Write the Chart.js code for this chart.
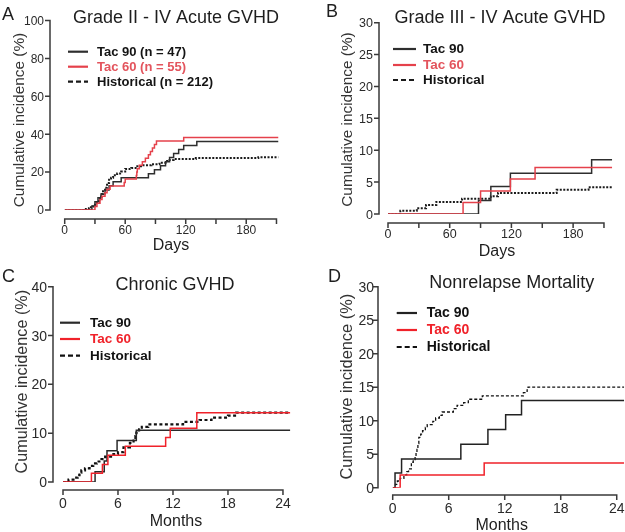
<!DOCTYPE html>
<html>
<head>
<meta charset="utf-8">
<script src="https://cdn.jsdelivr.net/npm/chart.js@4.4.1/dist/chart.umd.min.js"></script>
<style>
  body { margin: 0; background: #fff; width: 625px; height: 532px; overflow: hidden; position: relative; }
  canvas { position: absolute; left: 0; top: 0; }
</style>
</head>
<body>
<canvas id="chart-a" width="625" height="532"></canvas>
<canvas id="chart-b" width="625" height="532"></canvas>
<canvas id="chart-c" width="625" height="532"></canvas>
<canvas id="chart-d" width="625" height="532"></canvas>
<script>
// ---- dados: [tempo, incidência %] nos pontos de evento ----
// A: GVHD aguda grau II-IV (dias)
const aTac90 = [[0,0],[25,0],[27,2.1],[30,4.3],[33,6.4],[36,8.5],[40,10.6],[44,12.8],[48,14.9],[56,17.0],[83,19.1],[89,21.3],[95,23.4],[100,25.5],[104,27.7],[108,29.8],[113,31.9],[118,34.0],[131,36.2],[212,36.2]];
const aTac60 = [[0,0],[28,0],[30,1.8],[32,3.6],[35,5.5],[37,7.3],[40,9.1],[42,10.9],[45,12.7],[59,14.5],[60,16.4],[71,18.2],[71.5,20.0],[72,21.8],[74,23.6],[77,25.5],[80,27.3],[83,29.1],[85,30.9],[87,32.7],[89,34.5],[91,36.4],[118,38.2],[212,38.2]];
const aHist  = [[0,0],[18,0],[21,0.5],[24,0.9],[26,1.4],[28,1.9],[30,2.8],[32,4.2],[34,5.7],[35,7.1],[37,8.5],[38,9.9],[40,11.8],[42,14.2],[44,16.0],[46,17.0],[48,18.4],[52,19.3],[56,20.3],[60,21.7],[66,22.2],[72,23.1],[78,23.6],[86,24.1],[94,25.0],[100,25.9],[104,26.4],[108,26.9],[130,27.4],[192,27.8],[212,27.8]];
// B: GVHD aguda grau III-IV (dias)
const bTac90 = [[0,0],[88,2.1],[100,4.3],[119,6.4],[198,8.5],[218,8.5]];
const bTac60 = [[0,0],[73,1.8],[90,3.6],[119,5.5],[143,7.3],[218,7.3]];
const bHist  = [[0,0],[12,0.5],[28,0.9],[37,1.4],[47,1.9],[72,2.4],[100,2.8],[107,3.3],[164,3.8],[195,4.2],[218,4.2]];
// C: GVHD crônica (meses)
const cTac90 = [[0,0],[3.5,2.1],[4.5,4.3],[4.8,6.4],[5.9,8.5],[8.0,10.6],[24.8,10.6]];
const cTac60 = [[0,0],[3.1,1.8],[4.3,3.6],[4.9,5.5],[6.8,7.3],[11.2,9.1],[11.7,11.0],[14.6,14.2],[24.8,14.2]];
const cHist  = [[0,0],[0.6,0.5],[1.3,0.9],[1.6,1.4],[1.8,1.9],[2.0,2.4],[2.4,2.8],[2.9,3.3],[3.3,3.8],[3.7,4.2],[4.2,4.7],[4.6,5.2],[5.5,5.7],[6.0,6.1],[6.6,7.1],[7.3,8.0],[7.7,8.5],[7.9,9.4],[8.0,10.1],[8.3,10.8],[8.6,11.3],[9.3,11.8],[13.1,12.3],[14.9,12.7],[16.2,13.2],[18.0,13.6],[18.9,14.2],[24.8,14.2]];
// D: mortalidade não relacionada à recaída (meses)
const dTac90 = [[0,0],[0.25,2.2],[0.95,4.3],[7.3,6.5],[10.2,8.7],[12.1,10.9],[13.8,13.0],[24.8,13.0]];
const dTac60 = [[0,0],[0.8,1.9],[9.8,3.7],[24.8,3.7]];
const dHist  = [[0,0],[0.3,0.5],[0.5,1.0],[0.8,1.4],[1.2,1.9],[1.5,2.4],[1.7,2.8],[2.0,3.8],[2.2,4.2],[2.4,4.7],[2.5,5.2],[2.6,5.7],[2.7,6.6],[2.8,7.5],[3.0,8.0],[3.2,8.5],[3.5,9.0],[3.7,9.4],[4.3,9.9],[4.6,10.4],[5.0,10.8],[5.3,11.3],[6.5,11.8],[6.9,12.3],[7.6,12.7],[8.1,13.2],[9.6,13.7],[14.0,14.2],[14.4,14.6],[14.5,15.0],[24.8,15.0]];

// nomes das séries
const nomesA = ['Tac 90 (n = 47)', 'Tac 60 (n = 55)', 'Historical (n = 212)'];
const nomesBCD = ['Tac 90', 'Tac 60', 'Historical'];

// ticks e rótulos
const ticksDias = [0, 30, 60, 90, 120, 150, 180, 210];
const rotulosDias = [0, 60, 120, 180];
const ticksMeses = [0, 6, 12, 18, 24];
const ticksY100 = [0, 20, 40, 60, 80, 100];
const ticksY30 = [0, 5, 10, 15, 20, 25, 30];
const ticksY40 = [0, 10, 20, 30, 40];

const FONTE = "'Liberation Sans', Arial, Helvetica, sans-serif";
Chart.defaults.font.family = FONTE;

// Eixos estilo Prism: deslocados da área do gráfico
const eixosPrism = {
  id: 'eixosPrism',
  afterDraw(chart, args, o) {
    const { ctx } = chart;
    const sx = chart.scales.x, sy = chart.scales.y;
    ctx.save();
    ctx.setLineDash([]);
    ctx.strokeStyle = '#3a3a3a';
    ctx.lineWidth = 1.5;
    ctx.beginPath();
    const yBase = sy.getPixelForValue(o.yTicks[0]);
    const yTopo = sy.getPixelForValue(o.yTicks[o.yTicks.length - 1]);
    ctx.moveTo(o.eixoY, yBase + 0.75); ctx.lineTo(o.eixoY, yTopo - 0.75);
    o.yTicks.forEach(v => {
      const p = sy.getPixelForValue(v);
      ctx.moveTo(o.eixoY - 5, p); ctx.lineTo(o.eixoY, p);
    });
    const xIni = sx.getPixelForValue(o.xTicks[0]);
    const xFim = sx.getPixelForValue(o.xTicks[o.xTicks.length - 1]);
    ctx.moveTo(xIni - 0.75, o.eixoX); ctx.lineTo(xFim + 0.75, o.eixoX);
    o.xTicks.forEach(v => {
      const p = sx.getPixelForValue(v);
      ctx.moveTo(p, o.eixoX); ctx.lineTo(p, o.eixoX + 5);
    });
    ctx.stroke();

    // rótulos dos ticks
    ctx.fillStyle = '#2a2a2a';
    ctx.font = `${o.fonteTick}px ${FONTE}`;
    ctx.textBaseline = 'alphabetic';
    ctx.textAlign = 'right';
    o.yTicks.forEach(v => ctx.fillText(String(v), o.rotuloY, sy.getPixelForValue(v) + o.fonteTick * 0.36));
    ctx.textAlign = 'center';
    o.xRotulos.forEach(v => ctx.fillText(String(v), sx.getPixelForValue(v), o.rotuloX));

    // títulos
    ctx.fillStyle = '#1e1e1e';
    ctx.font = `18px ${FONTE}`;
    ctx.fillText(o.titulo, o.tituloPos[0], o.tituloPos[1]);
    ctx.textAlign = 'left';
    ctx.fillText(o.letra, o.letraPos[0], o.letraPos[1]);
    ctx.textAlign = 'center';
    ctx.font = `16px ${FONTE}`;
    ctx.fillText(o.tituloX, o.tituloXPos[0], o.tituloXPos[1]);
    ctx.save();
    ctx.translate(o.tituloYPos[0], o.tituloYPos[1]);
    ctx.rotate(-Math.PI / 2);
    ctx.textBaseline = 'middle';
    ctx.font = `${o.fonteTituloY}px ${FONTE}`;
    ctx.fillStyle = '#333';
    ctx.fillText('Cumulative incidence (%)', 0, 0);
    ctx.restore();

    // legenda
    const lg = o.legenda;
    chart.data.datasets.forEach((ds, i) => {
      const yy = lg.linhas[i];
      ctx.strokeStyle = ds.borderColor;
      ctx.lineWidth = 2.2;
      ctx.setLineDash(i === 2 ? lg.tracejado : []);
      ctx.beginPath();
      ctx.moveTo(lg.x0, yy); ctx.lineTo(lg.x1, yy);
      ctx.stroke();
      ctx.setLineDash([]);
      ctx.fillStyle = lg.coresTexto[i];
      ctx.font = `bold ${lg.fonte}px ${FONTE}`;
      ctx.textAlign = 'left';
      ctx.textBaseline = 'middle';
      ctx.fillText(ds.label, lg.xTexto, yy + 0.5);
    });
    ctx.restore();
  }
};

const PAINEIS = [
  {
    id: 'chart-a', series: [aTac90, aTac60, aHist], nomes: nomesA,
    cores: ['#2e2e2e', '#e5414b', '#1a1a1a'], larguras: [1.5, 1.5, 2], tracoHist: [2, 1.5],
    xMax: 212, yMax: 100, area: { left: 64.7, right: 278.5, top: 20.5, bottom: 210 },
    eixos: {
      letra: 'A', letraPos: [2, 20], titulo: 'Grade II - IV Acute GVHD', tituloPos: [176, 23],
      tituloX: 'Days', tituloXPos: [171, 250], tituloYPos: [20, 120], fonteTituloY: 15.4,
      eixoY: 50, eixoX: 219, xTicks: ticksDias, xRotulos: rotulosDias, yTicks: ticksY100,
      fonteTick: 12, rotuloY: 44, rotuloX: 234,
      legenda: { x0: 68, x1: 88, xTexto: 97, linhas: [51.7, 66.7, 81.7], fonte: 13, tracejado: [5, 3],
                 coresTexto: ['#141414', '#e3545d', '#141414'] },
    },
  },
  {
    id: 'chart-b', series: [bTac90, bTac60, bHist], nomes: nomesBCD,
    cores: ['#2e2e2e', '#e5414b', '#1a1a1a'], larguras: [1.5, 1.5, 2], tracoHist: [2, 1.5],
    xMax: 218, yMax: 30, area: { left: 388, right: 612.2, top: 22.7, bottom: 214 },
    eixos: {
      letra: 'B', letraPos: [326, 17], titulo: 'Grade III - IV Acute GVHD', tituloPos: [500, 23],
      tituloX: 'Days', tituloXPos: [497, 256], tituloYPos: [347.5, 119.5], fonteTituloY: 15.4,
      eixoY: 379, eixoX: 223, xTicks: ticksDias, xRotulos: rotulosDias, yTicks: ticksY30,
      fonteTick: 12.5, rotuloY: 373, rotuloX: 238,
      legenda: { x0: 393, x1: 416, xTexto: 423, linhas: [49, 65, 80], fonte: 13.5, tracejado: [5, 3],
                 coresTexto: ['#141414', '#e3545d', '#141414'] },
    },
  },
  {
    id: 'chart-c', series: [cTac90, cTac60, cHist], nomes: nomesBCD,
    cores: ['#2a2a2a', '#f0222a', '#111111'], larguras: [1.5, 1.5, 2.2], tracoHist: [3, 2.5],
    xMax: 24.8, yMax: 40, area: { left: 63, right: 290.3, top: 286.7, bottom: 482 },
    eixos: {
      letra: 'C', letraPos: [2, 282], titulo: 'Chronic GVHD', tituloPos: [175, 290],
      tituloX: 'Months', tituloXPos: [176, 526], tituloYPos: [22.5, 381.7], fonteTituloY: 16.2,
      eixoY: 53, eixoX: 490, xTicks: ticksMeses, xRotulos: ticksMeses, yTicks: ticksY40,
      fonteTick: 14, rotuloY: 47, rotuloX: 508,
      legenda: { x0: 60, x1: 80, xTexto: 90, linhas: [322.7, 339, 355.7], fonte: 13.5, tracejado: [5, 3],
                 coresTexto: ['#111', '#f0222a', '#111'] },
    },
  },
  {
    id: 'chart-d', series: [dTac90, dTac60, dHist], nomes: nomesBCD,
    cores: ['#222222', '#f0222a', '#111111'], larguras: [1.5, 1.5, 1.3], tracoHist: [3, 2],
    xMax: 24.8, yMax: 30, area: { left: 392.7, right: 624.2, top: 286.7, bottom: 487.7 },
    eixos: {
      letra: 'D', letraPos: [328, 282], titulo: 'Nonrelapse Mortality', tituloPos: [511.7, 288],
      tituloX: 'Months', tituloXPos: [501.7, 530], tituloYPos: [347.5, 386.7], fonteTituloY: 16.4,
      eixoY: 378, eixoX: 495, xTicks: ticksMeses, xRotulos: ticksMeses, yTicks: ticksY30,
      fonteTick: 14, rotuloY: 374, rotuloX: 513,
      legenda: { x0: 396.7, x1: 417, xTexto: 426.7, linhas: [313, 330, 347], fonte: 14, tracejado: [5, 3],
                 coresTexto: ['#111', '#f0222a', '#111'] },
    },
  },
];

function criarPainel(p) {
  const W = 625, H = 532;
  return new Chart(document.getElementById(p.id), {
    type: 'line',
    data: {
      datasets: p.series.map((s, i) => ({
        label: p.nomes[i],
        data: s.map(([x, y]) => ({ x, y })),
        borderColor: p.cores[i],
        borderWidth: p.larguras[i],
        borderDash: i === 2 ? p.tracoHist : [],
        stepped: true,
        pointRadius: 0,
        fill: false,
        order: [2, 1, 3][i],
      })),
    },
    options: {
      responsive: false,
      animation: false,
      layout: {
        padding: { left: p.area.left, right: W - p.area.right, top: p.area.top, bottom: H - p.area.bottom },
      },
      scales: {
        x: { type: 'linear', min: 0, max: p.xMax, display: false },
        y: { type: 'linear', min: 0, max: p.yMax, display: false },
      },
      plugins: {
        legend: { display: false },
        tooltip: { enabled: false },
        eixosPrism: p.eixos,
      },
    },
    plugins: [eixosPrism],
  });
}

PAINEIS.forEach(criarPainel);
</script>
</body>
</html>
